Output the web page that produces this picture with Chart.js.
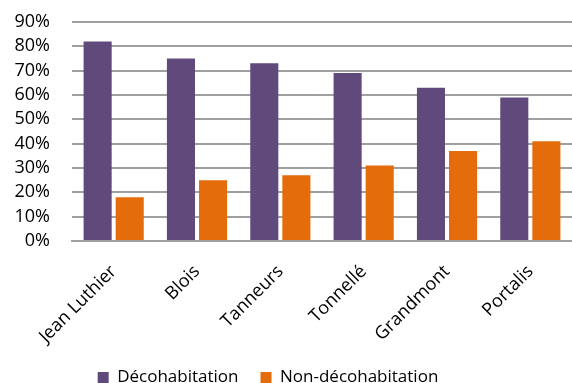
<!DOCTYPE html>
<html>
<head>
<meta charset="utf-8">
<script src="https://cdn.jsdelivr.net/npm/chart.js@4"></script>
<style>
  html, body { margin: 0; padding: 0; background: #fff; }
  #wrap { width: 572px; height: 383px; }
</style>
</head>
<body>
<div id="wrap"><canvas id="graph"></canvas></div>
<script>
var quartiers = ['Jean Luthier', 'Blois', 'Tanneurs', 'Tonnellé', 'Grandmont', 'Portalis'];
var decohabitation = [82, 75, 73, 69, 63, 59];
var nonDecohabitation = [18, 25, 27, 31, 37, 41];

var purple = '#604a7b';
var orange = '#e46c0a';

Chart.defaults.font.family = '"Open Sans", sans-serif';
Chart.defaults.color = '#000';

/* legend sits a little left of the middle */
var shiftLegend = {
    id: 'shiftLegend',
    afterLayout: function (chart) {
        chart.legend.left -= 18;
        chart.legend.right -= 18;
    }
};

new Chart(document.getElementById('graph'), {
    type: 'bar',
    data: {
        labels: quartiers,
        datasets: [
            { label: 'Décohabitation', data: decohabitation, backgroundColor: purple },
            { label: 'Non-décohabitation', data: nonDecohabitation, backgroundColor: orange }
        ]
    },
    plugins: [shiftLegend],
    options: {
        responsive: true,
        maintainAspectRatio: false,
        animation: false,
        categoryPercentage: 0.77,
        barPercentage: 0.875,
        layout: { padding: { left: 0, right: 0, top: 22, bottom: -13 } },
        plugins: {
            tooltip: { enabled: false },
            legend: {
                position: 'bottom',
                labels: {
                    boxWidth: 11, boxHeight: 11, padding: 22,
                    font: { size: 17 }
                }
            }
        },
        scales: {
            x: {
                grid: { display: false },
                border: { color: '#a0a0a0', width: 2 },
                ticks: { minRotation: 45, maxRotation: 45, font: { size: 18 }, padding: 12 },
                afterFit: function (s) { s.height = 106; }
            },
            y: {
                min: 0, max: 90,
                border: { display: false },
                grid: { color: '#a0a0a0', lineWidth: 2, drawTicks: false },
                ticks: {
                    stepSize: 10, autoSkip: false, font: { size: 18 }, padding: 22,
                    callback: function (v) { return v + '%'; }
                },
                afterFit: function (s) { s.width = 72; s.paddingTop = 0; }
            }
        }
    }
});
</script>
</body>
</html>
